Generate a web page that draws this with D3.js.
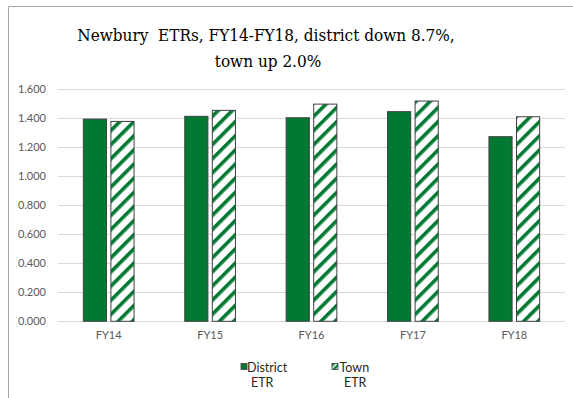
<!DOCTYPE html>
<html>
<head>
<meta charset="utf-8">
<script src="https://cdn.jsdelivr.net/npm/d3@7"></script>
<style>
  body { margin: 0; background: #fff; }
  svg { display: block; }
  .ttl { font-family: "DejaVu Serif Condensed", "DejaVu Serif", serif; font-stretch: condensed; }
</style>
</head>
<body>
<div id="chart"></div>
<script>
const categories = ["FY14", "FY15", "FY16", "FY17", "FY18"];
const seriesNames = ["District ETR", "Town ETR"];
const district = [1.391, 1.410, 1.400, 1.442, 1.270];
const town = [1.375, 1.451, 1.494, 1.515, 1.407];
const yTicks = [0, 0.2, 0.4, 0.6, 0.8, 1.0, 1.2, 1.4, 1.6];

const width = 573, height = 398;
const green = "#007a33";
const plot = { left: 58, right: 565, top: 88.7, bottom: 321.3 };

let data = categories.map((c, i) => ({ cat: c, values: [district[i], town[i]] }));

let svg = d3.select("#chart")
    .append("svg")
    .attr("width", width)
    .attr("height", height);

// stripe pattern for town bars
let defs = svg.append("defs");
let pat = defs.append("pattern")
    .attr("id", "stripes")
    .attr("patternUnits", "userSpaceOnUse")
    .attr("width", 10)
    .attr("height", 10)
    .attr("patternTransform", "rotate(45)");
pat.append("rect").attr("width", 10).attr("height", 10).attr("fill", "#fff");
pat.append("rect").attr("width", 3.6).attr("height", 10).attr("fill", green);

let smallPat = defs.append("pattern")
    .attr("id", "stripesSmall")
    .attr("patternUnits", "userSpaceOnUse")
    .attr("width", 4)
    .attr("height", 4)
    .attr("patternTransform", "rotate(45)");
smallPat.append("rect").attr("width", 4).attr("height", 4).attr("fill", "#fff");
smallPat.append("rect").attr("width", 2.4).attr("height", 4).attr("fill", green);

// chart frame (only top and left edge visible in the crop)
svg.append("path")
    .attr("d", `M8.5,${height} V6.5 H${width}`)
    .attr("fill", "none")
    .attr("stroke", "#a6a6a6")
    .attr("stroke-width", 1);

let x0 = d3.scaleBand()
    .domain(categories)
    .range([plot.left, plot.right])
    .paddingInner(0.5)
    .paddingOuter(0.25);

let x1 = d3.scaleBand()
    .domain([0, 1])
    .range([0, x0.bandwidth()])
    .paddingInner(0.16);

let y = d3.scaleLinear()
    .domain([0, 1.6])
    .range([plot.bottom, plot.top]);

// gridlines
svg.append("g")
    .selectAll("line")
    .data(yTicks)
    .enter()
    .append("line")
    .attr("x1", plot.left)
    .attr("x2", plot.right)
    .attr("y1", d => Math.round(y(d)) + 0.5)
    .attr("y2", d => Math.round(y(d)) + 0.5)
    .attr("stroke", "#d9d9d9")
    .attr("stroke-width", 1);

// y axis labels
let yAxis = svg.append("g")
    .attr("transform", `translate(${plot.left}, 0)`)
    .call(d3.axisLeft(y).tickValues(yTicks).tickFormat(d3.format(".3f")).tickSize(0).tickPadding(12));
yAxis.select(".domain").remove();
yAxis.selectAll("text")
    .attr("fill", "#595959")
    .style("font-family", "Lato, 'Open Sans', sans-serif")
    .style("font-size", "11px");

// x axis labels
let xAxis = svg.append("g")
    .attr("transform", `translate(0, ${plot.bottom})`)
    .call(d3.axisBottom(x0).tickSize(0).tickPadding(10));
xAxis.select(".domain").remove();
xAxis.selectAll("text")
    .attr("fill", "#595959")
    .style("font-family", "Lato, 'Open Sans', sans-serif")
    .style("font-size", "11px");

// bars
let groups = svg.append("g")
    .selectAll("g")
    .data(data)
    .enter()
    .append("g")
    .attr("transform", d => `translate(${x0(d.cat)}, 0)`);

groups.selectAll("rect")
    .data(d => d.values.map((v, i) => ({ i: i, v: v })))
    .enter()
    .append("rect")
    .attr("x", d => x1(d.i))
    .attr("y", d => y(d.v))
    .attr("width", x1.bandwidth())
    .attr("height", d => y(0) - y(d.v))
    .attr("fill", d => d.i === 0 ? green : "url(#stripes)")
    .attr("stroke", "#404040")
    .attr("stroke-width", 1);

// title
let title = svg.append("text")
    .attr("class", "ttl")
    .attr("text-anchor", "middle")
    .attr("font-size", 17)
    .attr("fill", "#000");
title.append("tspan").attr("x", 266).attr("y", 41).text("Newbury\u00a0\u00a0ETRs, FY14-FY18, district down 8.7%,");
title.append("tspan").attr("x", 268).attr("y", 67).text("town up 2.0%");

// legend
let legendPos = [{ sx: 241, tx: 247, t2x: 251 }, { sx: 332, tx: 339.5, t2x: 344 }];
let legend = svg.append("g")
    .selectAll("g")
    .data(seriesNames)
    .enter()
    .append("g");

legend.append("rect")
    .attr("x", (d, i) => legendPos[i].sx)
    .attr("y", 363.5)
    .attr("width", 6)
    .attr("height", 6)
    .attr("fill", (d, i) => i === 0 ? green : "url(#stripesSmall)")
    .attr("stroke", "#404040")
    .attr("stroke-width", 0.8);

legend.append("text")
    .attr("x", (d, i) => legendPos[i].tx)
    .attr("y", 371.5)
    .style("font-family", "Lato, 'Open Sans', sans-serif")
    .style("font-size", "12.5px")
    .attr("fill", "#262626")
    .text(d => d.split(" ")[0]);

legend.append("text")
    .attr("x", (d, i) => legendPos[i].t2x)
    .attr("y", 387)
    .style("font-family", "Lato, 'Open Sans', sans-serif")
    .style("font-size", "12.5px")
    .attr("fill", "#262626")
    .text(d => d.split(" ")[1]);
</script>
</body>
</html>
